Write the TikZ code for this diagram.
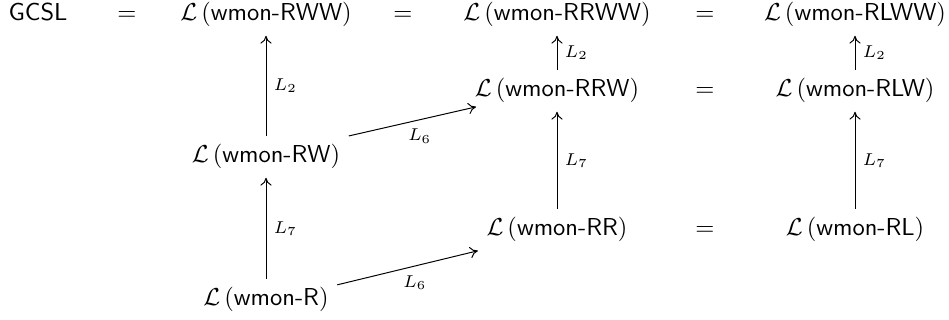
\documentclass[tikz,border=0pt]{standalone}
\usetikzlibrary{arrows.meta}
\begin{document}
\begin{tikzpicture}[x=0.408pt,y=-0.408pt,
  obj/.style={anchor=base, inner sep=3.33pt, text height=7.5pt, text depth=2.5pt},
  arr/.style={-{To[length=3.2pt,width=4.6pt]}, line width=0.4pt},
  lab/.style={font=\scriptsize, inner sep=3pt}]
\useasboundingbox (0,0) rectangle (949,320);
% row 1
\node[obj] (gcsl) at (38,21) {\textsf{GCSL}};
\node[obj] (e1) at (127,21) {$=$};
\node[obj] (rww) at (266,21) {$\mathcal{L}\,(\textsf{wmon-RWW})$};
\node[obj] (e2) at (403,21) {$=$};
\node[obj] (rrww) at (557,21) {$\mathcal{L}\,(\textsf{wmon-RRWW})$};
\node[obj] (e3) at (705,21) {$=$};
\node[obj] (rlww) at (855,21) {$\mathcal{L}\,(\textsf{wmon-RLWW})$};
% row 2
\node[obj] (rrw) at (557,97) {$\mathcal{L}\,(\textsf{wmon-RRW})$};
\node[obj] (e4) at (705,97) {$=$};
\node[obj] (rlw) at (855,97) {$\mathcal{L}\,(\textsf{wmon-RLW})$};
% row 3
\node[obj] (rw) at (266,163) {$\mathcal{L}\,(\textsf{wmon-RW})$};
% row 4
\node[obj] (rr) at (557,236) {$\mathcal{L}\,(\textsf{wmon-RR})$};
\node[obj] (e5) at (705,236) {$=$};
\node[obj] (rl) at (855,236) {$\mathcal{L}\,(\textsf{wmon-RL})$};
% row 5
\node[obj] (r) at (266,306) {$\mathcal{L}\,(\textsf{wmon-R})$};
% arrows
\draw[arr] (rw) -- (rww) node[lab,midway,right] {$L_2$};
\draw[arr] (r) -- (rw) node[lab,midway,right] {$L_7$};
\draw[arr] (rrw) -- (rrww) node[lab,midway,right] {$L_2$};
\draw[arr] (rr) -- (rrw) node[lab,midway,right] {$L_7$};
\draw[arr] (rlw) -- (rlww) node[lab,midway,right] {$L_2$};
\draw[arr] (rl) -- (rlw) node[lab,midway,right] {$L_7$};
\draw[arr] (rw.north east) -- ([xshift=4pt,yshift=2pt]rrw.south west)
  node[lab,midway,below,xshift=3pt] {$L_6$};
\draw[arr] ([yshift=-2.4pt]r.north east) -- (rr.south west)
  node[lab,midway,below,xshift=3pt] {$L_6$};
\end{tikzpicture}
\end{document}
